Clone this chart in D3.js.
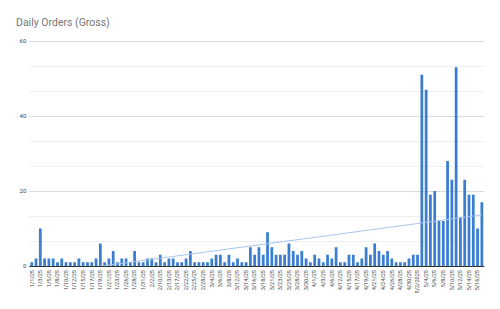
<!DOCTYPE html>
<html>
<head>
<meta charset="utf-8">
<script src="https://cdn.jsdelivr.net/npm/d3@7/dist/d3.min.js"></script>
<style>
  html, body { margin: 0; padding: 0; background: #fff; }
  svg { display: block; font-family: Roboto, "Noto Sans", sans-serif; }
  .tick text { fill: #444; }
</style>
</head>
<body>
<div id="chart"></div>
<script>
// Daily Orders (Gross): bars per order date, plus a linear trendline (least squares).
const dates = [
  "1/1/25", "1/2/25", "1/3/25", "1/4/25", "1/5/25", "1/6/25", "1/8/25", "1/9/25", "1/10/25", "1/11/25",
  "1/12/25", "1/13/25", "1/15/25", "1/16/25", "1/17/25", "1/18/25", "1/19/25", "1/20/25", "1/21/25", "1/22/25",
  "1/23/25", "1/24/25", "1/26/25", "1/27/25", "1/28/25", "1/29/25", "1/31/25", "2/1/25", "2/2/25", "2/5/25",
  "2/10/25", "2/11/25", "2/13/25", "2/15/25", "2/17/25", "2/19/25", "2/22/25", "2/24/25", "2/25/25", "2/26/25",
  "2/28/25", "3/2/25", "3/4/25", "3/5/25", "3/6/25", "3/7/25", "3/8/25", "3/10/25", "3/12/25", "3/13/25",
  "3/14/25", "3/15/25", "3/16/25", "3/17/25", "3/18/25", "3/19/25", "3/21/25", "3/22/25", "3/23/25", "3/24/25",
  "3/25/25", "3/26/25", "3/28/25", "3/29/25", "3/30/25", "3/31/25", "4/1/25", "4/2/25", "4/3/25", "4/4/25",
  "4/6/25", "4/8/25", "4/12/25", "4/14/25", "4/15/25", "4/16/25", "4/17/25", "4/18/25", "4/19/25", "4/20/25",
  "4/21/25", "4/22/25", "4/24/25", "4/25/25", "4/26/25", "4/27/25", "4/28/25", "4/29/25", "4/30/25", "5/1/25",
  "5/2/2025", "5/3/25", "5/4/25", "5/5/25", "5/6/25", "5/7/25", "5/8/25", "5/9/25", "5/10/25", "5/11/25",
  "5/12/25", "5/13/25", "5/14/25", "5/15/25", "5/16/25", "5/17/25"
];
const orders = [
  1, 2, 10, 2, 2, 2, 1, 2, 1, 1,
  1, 2, 1, 1, 1, 2, 6, 1, 2, 4,
  1, 2, 2, 1, 4, 1, 1, 2, 2, 1,
  3, 1, 2, 2, 1, 1, 2, 4, 1, 1,
  1, 1, 2, 3, 3, 1, 3, 1, 2, 1,
  1, 5, 3, 5, 3, 9, 5, 3, 3, 3,
  6, 4, 3, 4, 2, 1, 3, 2, 1, 3,
  2, 5, 1, 1, 3, 3, 1, 2, 5, 3,
  6, 4, 3, 4, 2, 1, 1, 1, 2, 3,
  3, 51, 47, 19, 20, 12, 12, 28, 23, 53,
  13, 23, 19, 19, 10, 17
];
const yTicks = [0, 20, 40, 60];
const title = "Daily Orders (Gross)";

const W = 500, H = 309;
const margin = { top: 41, right: 15.7, bottom: 43, left: 29.3 };
const iw = W - margin.left - margin.right;
const ih = H - margin.top - margin.bottom;

const svg = d3.select("#chart").append("svg").attr("width", W).attr("height", H);

svg.append("text").attr("x", 16).attr("y", 25.5)
  .attr("font-size", 10.5).attr("fill", "#757575").text(title);

const g = svg.append("g").attr("transform", `translate(${margin.left},${margin.top})`);

const x = d3.scaleBand().domain(dates).range([0, iw]).paddingInner(0.36).paddingOuter(0.25);
const y = d3.scaleLinear().domain([0, 60]).range([ih, 0]);

// minor gridlines (3 per labelled step), then major ones
const minor = d3.range(0, 60.01, 20 / 3).filter((v) => !yTicks.some((t) => Math.abs(t - v) < 1e-6));
g.append("g").selectAll("line").data(minor).join("line")
  .attr("x1", 0).attr("x2", iw).attr("y1", (d) => Math.round(y(d)) + 0.5).attr("y2", (d) => Math.round(y(d)) + 0.5)
  .attr("stroke", "#efefef");

const gy = g.append("g")
  .call(d3.axisLeft(y).tickValues(yTicks).tickSize(-iw).tickPadding(3).tickFormat(d3.format("d")));
gy.select(".domain").remove();
gy.selectAll(".tick line").attr("stroke", "#d9d9d9");
gy.selectAll(".tick text").attr("font-size", 6).attr("font-family", "Roboto");

// bars
g.append("g").selectAll("rect").data(orders).join("rect")
  .attr("x", (d, i) => x(dates[i])).attr("width", x.bandwidth())
  .attr("y", (d) => y(d)).attr("height", (d) => y(0) - y(d))
  .attr("fill", "#3a7dd1");

// baseline
g.append("line").attr("x1", 0).attr("x2", iw).attr("y1", y(0) + 0.5).attr("y2", y(0) + 0.5)
  .attr("stroke", "#333").attr("stroke-width", 1);

// linear trendline fitted to the bars, clipped to plot area
const n = orders.length;
const mx = d3.mean(d3.range(n)), my = d3.mean(orders);
const slope = d3.sum(orders, (v, i) => (i - mx) * (v - my)) / d3.sum(d3.range(n), (i) => (i - mx) ** 2);
const icpt = my - slope * mx;
svg.append("clipPath").attr("id", "plot").append("rect").attr("width", iw).attr("height", ih);
const cx = (i) => x(dates[i]) + x.bandwidth() / 2;
g.append("line").attr("clip-path", "url(#plot)")
  .attr("x1", cx(0)).attr("y1", y(icpt)).attr("x2", cx(n - 1)).attr("y2", y(icpt + slope * (n - 1)))
  .attr("stroke", "#a8c4f0").attr("stroke-width", 1);

// x labels: every other category, rotated
const gx = g.append("g").attr("transform", `translate(0,${ih})`)
  .call(d3.axisBottom(x).tickValues(dates.filter((d, i) => i % 2 === 0)).tickSize(0).tickPadding(3));
gx.select(".domain").remove();
gx.selectAll(".tick text")
  .attr("font-size", 5.6).attr("font-family", "Roboto")
  .attr("text-anchor", "end").attr("dy", "0.32em")
  .attr("transform", "translate(0,3) rotate(-90)").attr("x", -1).attr("y", 0);
</script>
</body>
</html>
